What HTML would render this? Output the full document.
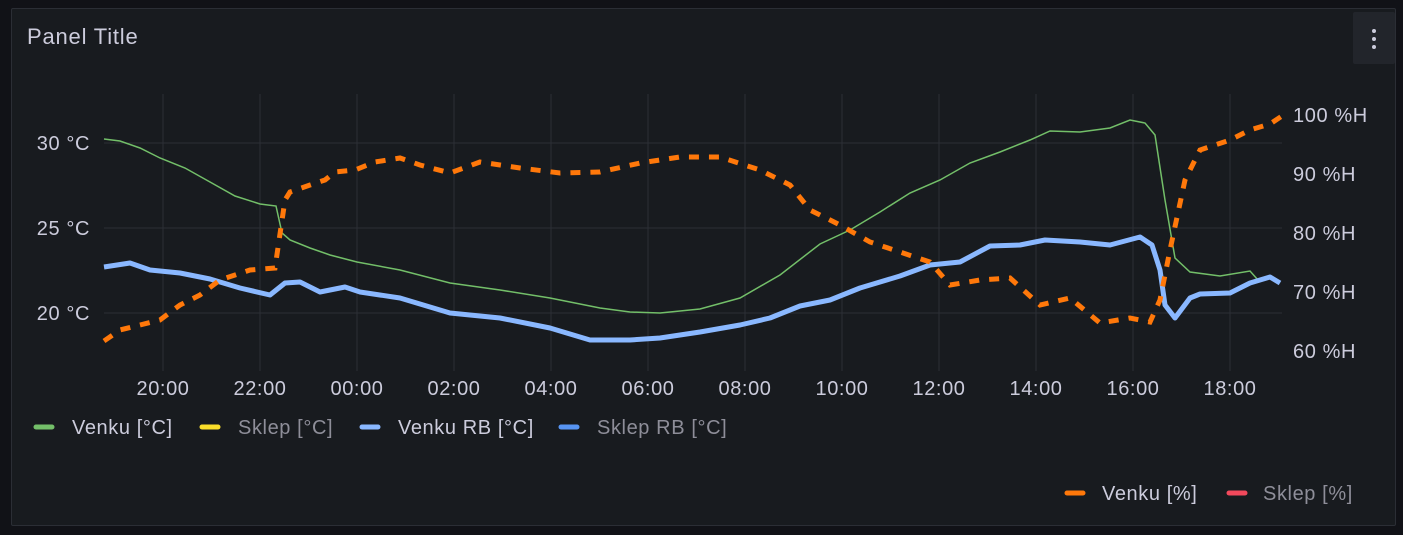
<!DOCTYPE html>
<html><head><meta charset="utf-8"><style>
body{margin:0;width:1403px;height:535px;background:#111217;overflow:hidden;font-family:"Liberation Sans",sans-serif;}
.panel{position:absolute;left:11px;top:8px;width:1383px;height:516px;background:#181b1f;border:1px solid #2b2e35;border-radius:2px;}
.t{position:absolute;left:15px;top:15px;font-size:22px;letter-spacing:0.8px;color:#ccccdc;}
.menu{position:absolute;right:0;top:3px;width:42px;height:52px;background:#22252b;border-radius:2px;}
.menu i{position:absolute;left:19px;width:4px;height:4px;border-radius:2px;background:#ccccdc;}
svg text{font-family:"Liberation Sans",sans-serif;font-size:20px;letter-spacing:0.6px;fill:#ccccdc;}
</style></head><body>
<div class="panel"><div class="t">Panel Title</div><div class="menu"><i style="top:17px"></i><i style="top:25px"></i><i style="top:33px"></i></div></div>
<svg width="1403" height="535" style="position:absolute;left:0;top:0">
<g stroke="#2c2f35" stroke-width="1">
<line x1="104" x2="1282" y1="143" y2="143"/><line x1="104" x2="1282" y1="228" y2="228"/><line x1="104" x2="1282" y1="313" y2="313"/>
<line x1="163" x2="163" y1="94" y2="371"/><line x1="260" x2="260" y1="94" y2="371"/><line x1="357" x2="357" y1="94" y2="371"/><line x1="454" x2="454" y1="94" y2="371"/><line x1="551" x2="551" y1="94" y2="371"/><line x1="648" x2="648" y1="94" y2="371"/><line x1="745" x2="745" y1="94" y2="371"/><line x1="842" x2="842" y1="94" y2="371"/><line x1="939" x2="939" y1="94" y2="371"/><line x1="1036" x2="1036" y1="94" y2="371"/><line x1="1133" x2="1133" y1="94" y2="371"/><line x1="1230" x2="1230" y1="94" y2="371"/>
</g>
<g text-anchor="end"><text x="90" y="150">30 °C</text><text x="90" y="235">25 °C</text><text x="90" y="320">20 °C</text></g>
<g><text x="1293" y="122">100 %H</text><text x="1293" y="181">90 %H</text><text x="1293" y="240">80 %H</text><text x="1293" y="299">70 %H</text><text x="1293" y="358">60 %H</text></g>
<g text-anchor="middle"><text x="163" y="395">20:00</text><text x="260" y="395">22:00</text><text x="357" y="395">00:00</text><text x="454" y="395">02:00</text><text x="551" y="395">04:00</text><text x="648" y="395">06:00</text><text x="745" y="395">08:00</text><text x="842" y="395">10:00</text><text x="939" y="395">12:00</text><text x="1036" y="395">14:00</text><text x="1133" y="395">16:00</text><text x="1230" y="395">18:00</text></g>
<polyline fill="none" stroke="#73bf69" stroke-width="1.5" points="104,139 120,141 140,148 160,158 185,168 210,182 235,196 260,204 276,206 282,233 290,240 310,248 330,255 357,262 400,270 450,283 500,290 550,298 600,308 630,312 660,313 700,309 740,298 780,275 820,244 850,230 880,212 910,193 940,180 970,163 1000,152 1030,140 1050,131 1080,132 1110,128 1130,120 1145,123 1155,135 1165,200 1175,258 1190,272 1220,276 1250,271 1258,280"/>
<polyline fill="none" stroke="#8ab8ff" stroke-width="5" stroke-linejoin="round" points="104,267 130,263 150,270 180,273 210,279 240,288 270,295 285,283 300,282 320,292 345,287 360,292 400,298 450,313 500,318 550,328 590,340 630,340 660,338 700,332 740,325 770,318 800,306 830,300 860,288 900,276 930,265 960,262 990,246 1020,245 1045,240 1080,242 1110,245 1140,237 1152,245 1160,270 1165,305 1175,318 1190,298 1200,294 1230,293 1250,283 1270,277 1280,283"/>
<polyline fill="none" stroke="#ff780a" stroke-width="5" stroke-dasharray="10,10" points="104,341 120,330 140,325 160,320 180,305 200,295 220,280 250,270 275,268 285,200 290,192 310,185 325,180 335,172 355,170 375,162 400,158 420,165 450,173 480,162 520,168 560,173 600,172 640,163 680,157 720,157 760,170 790,185 810,210 840,225 870,242 900,252 930,262 950,285 980,280 1010,278 1040,305 1070,298 1100,323 1130,318 1150,322 1160,300 1170,250 1185,180 1200,150 1230,140 1250,130 1270,124 1282,116"/>
<g stroke-width="5" stroke-linecap="round">
<line x1="36" x2="52" y1="427" y2="427" stroke="#73bf69"/><line x1="202" x2="218" y1="427" y2="427" stroke="#fade2a"/><line x1="362" x2="378" y1="427" y2="427" stroke="#8ab8ff"/><line x1="561" x2="577" y1="427" y2="427" stroke="#5794f2"/>
<line x1="1067" x2="1083" y1="493" y2="493" stroke="#ff780a"/><line x1="1229" x2="1245" y1="493" y2="493" stroke="#f2495c"/>
</g>
<text x="72" y="434">Venku [°C]</text><text x="238" y="434" style="fill:#8e8e99">Sklep [°C]</text><text x="398" y="434">Venku RB [°C]</text><text x="597" y="434" style="fill:#8e8e99">Sklep RB [°C]</text>
<text x="1102" y="500">Venku [%]</text><text x="1263" y="500" style="fill:#8e8e99">Sklep [%]</text>
</svg>
</body></html>
